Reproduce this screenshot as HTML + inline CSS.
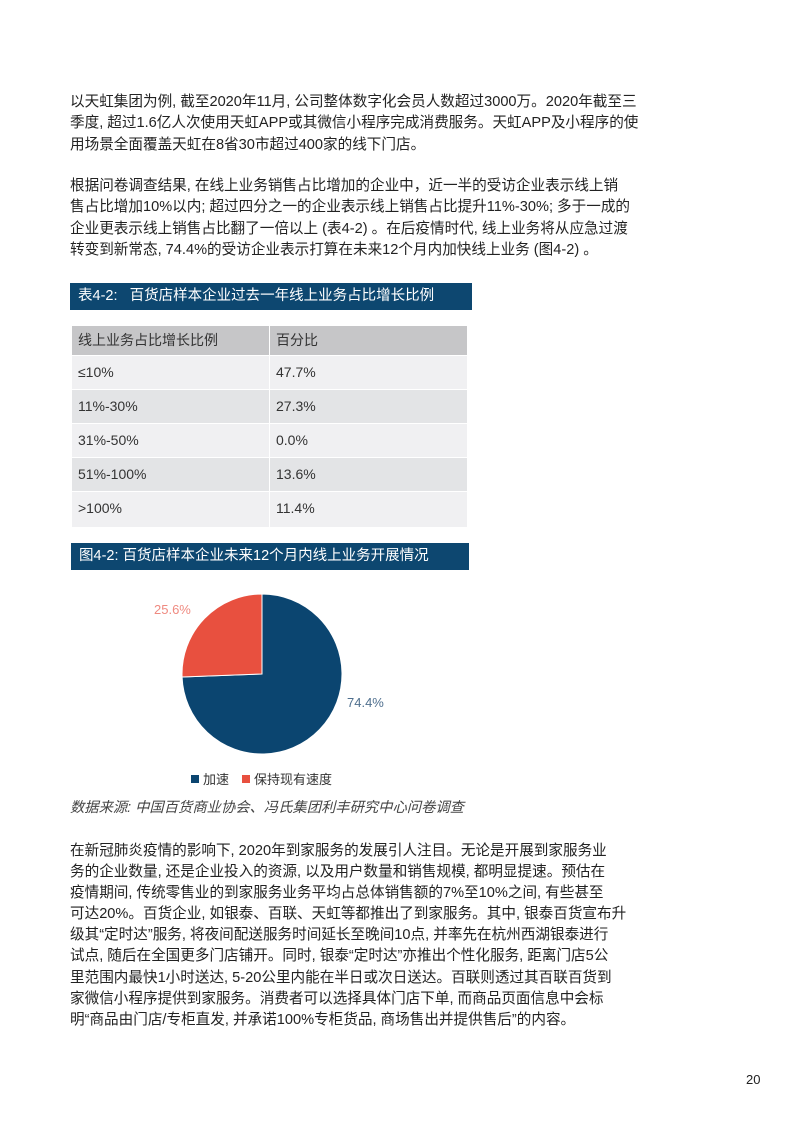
<!DOCTYPE html>
<html><head><meta charset="utf-8"><style>
body{margin:0;background:#fff;}
.pg{position:relative;width:793px;height:1122px;font-family:"Liberation Sans","Noto Sans CJK SC",sans-serif;color:#222;}
.t{position:absolute;left:70px;font-size:14.6px;line-height:21.3px;white-space:nowrap;}
.bar{position:absolute;background:#0d4770;color:#fff;font-size:14.5px;line-height:26px;padding-left:8px;box-sizing:border-box;}
.c{position:absolute;font-size:14px;color:#333;line-height:33px;padding-left:6px;box-sizing:border-box;}
</style></head><body><div class="pg">
<div class="t" style="top:92px">以天虹集团为例, 截至2020年11月, 公司整体数字化会员人数超过3000万。2020年截至三<br>季度, 超过1.6亿人次使用天虹APP或其微信小程序完成消费服务。天虹APP及小程序的使<br>用场景全面覆盖天虹在8省30市超过400家的线下门店。</div>
<div class="t" style="top:176px">根据问卷调查结果, 在线上业务销售占比增加的企业中，近一半的受访企业表示线上销<br>售占比增加10%以内; 超过四分之一的企业表示线上销售占比提升11%-30%; 多于一成的<br>企业更表示线上销售占比翻了一倍以上 (表4-2) 。在后疫情时代, 线上业务将从应急过渡<br>转变到新常态, 74.4%的受访企业表示打算在未来12个月内加快线上业务 (图4-2) 。</div>
<div class="bar" style="left:70px;top:283px;width:402px;height:27px">表4-2:&nbsp;&nbsp; 百货店样本企业过去一年线上业务占比增长比例</div>
<div class="c" style="left:72px;top:326px;width:197px;height:29px;background:#c6c6c8;line-height:29px">线上业务占比增长比例</div>
<div class="c" style="left:270px;top:326px;width:197px;height:29px;background:#c6c6c8;line-height:29px">百分比</div>
<div class="c" style="left:72px;top:356px;width:197px;height:33px;background:#f0f0f2">≤10%</div>
<div class="c" style="left:270px;top:356px;width:197px;height:33px;background:#f0f0f2">47.7%</div>
<div class="c" style="left:72px;top:390px;width:197px;height:33px;background:#e3e4e6">11%-30%</div>
<div class="c" style="left:270px;top:390px;width:197px;height:33px;background:#e3e4e6">27.3%</div>
<div class="c" style="left:72px;top:424px;width:197px;height:33px;background:#f0f0f2">31%-50%</div>
<div class="c" style="left:270px;top:424px;width:197px;height:33px;background:#f0f0f2">0.0%</div>
<div class="c" style="left:72px;top:458px;width:197px;height:33px;background:#e3e4e6">51%-100%</div>
<div class="c" style="left:270px;top:458px;width:197px;height:33px;background:#e3e4e6">13.6%</div>
<div class="c" style="left:72px;top:492px;width:197px;height:35px;background:#f0f0f2">&gt;100%</div>
<div class="c" style="left:270px;top:492px;width:197px;height:35px;background:#f0f0f2">11.4%</div>
<div class="bar" style="left:71px;top:543px;width:398px;height:27px">图4-2: 百货店样本企业未来12个月内线上业务开展情况</div>
<svg style="position:absolute;left:0;top:0" width="793" height="1122">
<path d="M262,674 L262,594 A80,80 0 1 1 182.06,677.02 Z" fill="#0b4570" stroke="#fff" stroke-width="1"/>
<path d="M262,674 L182.06,677.02 A80,80 0 0 1 262,594 Z" fill="#e8503f" stroke="#fff" stroke-width="1"/>
<text x="154" y="614" font-size="13" fill="#ef8a80" font-family="Liberation Sans,sans-serif">25.6%</text>
<text x="347" y="707" font-size="13" fill="#4f6f8e" font-family="Liberation Sans,sans-serif">74.4%</text>
<rect x="191" y="775" width="8" height="8" fill="#0b4570"/>
<text x="203" y="784" font-size="13" fill="#333" font-family="Liberation Sans,Noto Sans CJK SC,sans-serif">加速</text>
<rect x="242" y="775" width="8" height="8" fill="#e8503f"/>
<text x="254" y="784" font-size="13" fill="#333" font-family="Liberation Sans,Noto Sans CJK SC,sans-serif">保持现有速度</text>
</svg>
<div class="t" style="top:798px;font-style:italic;color:#444;font-size:14.3px">数据来源: 中国百货商业协会、冯氏集团利丰研究中心问卷调查</div>
<div class="t" style="top:841px;line-height:21.1px">在新冠肺炎疫情的影响下, 2020年到家服务的发展引人注目。无论是开展到家服务业<br>务的企业数量, 还是企业投入的资源, 以及用户数量和销售规模, 都明显提速。预估在<br>疫情期间, 传统零售业的到家服务业务平均占总体销售额的7%至10%之间, 有些甚至<br>可达20%。百货企业, 如银泰、百联、天虹等都推出了到家服务。其中, 银泰百货宣布升<br>级其“定时达”服务, 将夜间配送服务时间延长至晚间10点, 并率先在杭州西湖银泰进行<br>试点, 随后在全国更多门店铺开。同时, 银泰“定时达”亦推出个性化服务, 距离门店5公<br>里范围内最快1小时送达, 5-20公里内能在半日或次日送达。百联则透过其百联百货到<br>家微信小程序提供到家服务。消费者可以选择具体门店下单, 而商品页面信息中会标<br>明“商品由门店/专柜直发, 并承诺100%专柜货品, 商场售出并提供售后”的内容。</div>
<div style="position:absolute;left:746px;top:1072px;font-size:13px;font-family:'Liberation Sans',sans-serif">20</div>
</div></body></html>
